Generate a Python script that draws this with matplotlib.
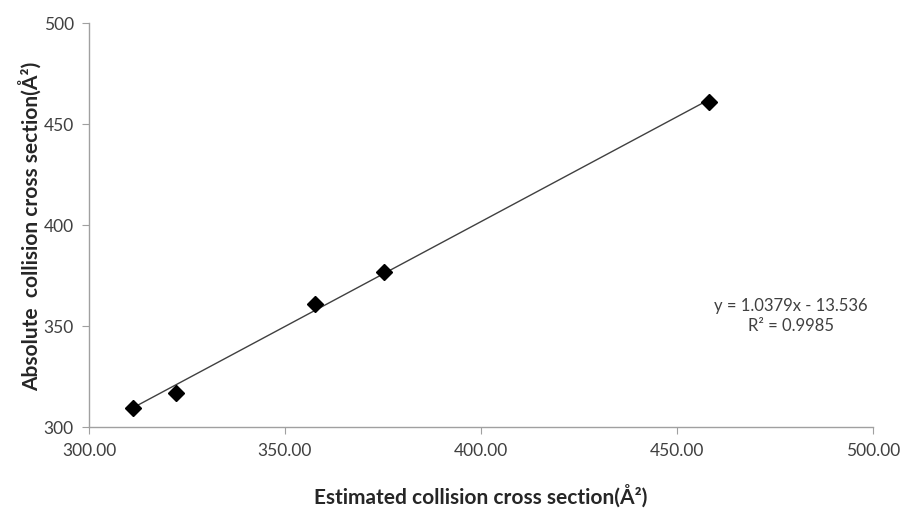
import matplotlib.pyplot as plt
import numpy as np

# estimated vs absolute CCS (A^2)
est_ccs = [311.1, 322.3, 357.7, 375.2, 458.2]
abs_ccs = [309.3, 317.0, 360.9, 376.6, 460.7]
slope = 1.0379
intercept = -13.536
r2 = 0.9985

plt.rcParams['font.family'] = ['Lato', 'DejaVu Sans']

fig = plt.figure(figsize=(9.03, 5.10), dpi=100)
ax = fig.add_axes([0.0986, 0.161, 0.868, 0.792])

# trendline over data range
xs = np.array([min(est_ccs), max(est_ccs)])
ax.plot(xs, slope * xs + intercept, color='#404040', linewidth=1.0, zorder=2)
ax.plot(est_ccs, abs_ccs, linestyle='none', marker='D', markersize=8.5,
        color='black', zorder=3)

ax.set_xlim(300, 500)
ax.set_ylim(300, 500)
ax.set_xticks(np.arange(300, 501, 50))
ax.set_yticks(np.arange(300, 501, 50))
ax.set_xticklabels(['%.2f' % v for v in np.arange(300, 501, 50)])

for s in ['top', 'right']:
    ax.spines[s].set_visible(False)
for s in ['left', 'bottom']:
    ax.spines[s].set_color('#a0a0a0')
    ax.spines[s].set_linewidth(1.0)
ax.tick_params(direction='out', length=5, color='#a0a0a0',
               labelsize=12.5, labelcolor='#404040', pad=6)

ax.set_xlabel('Estimated collision cross section(Å²)', fontsize=15,
              fontweight='bold', color='#262626', labelpad=18)
ax.set_ylabel('Absolute  collision cross section(Å²)', fontsize=15,
              fontweight='bold', color='#262626', labelpad=1)

# regression equation, placed in data coordinates
ax.text(300 + (791 - 89) / 3.92, 300 + (428 - 316) / 2.02,
        'y = %.4fx - %.3f\nR² = %.4f' % (slope, -intercept, r2),
        fontsize=12, color='#404040', ha='center', va='center',
        linespacing=1.35)

fig.savefig('out.png', dpi=100)
